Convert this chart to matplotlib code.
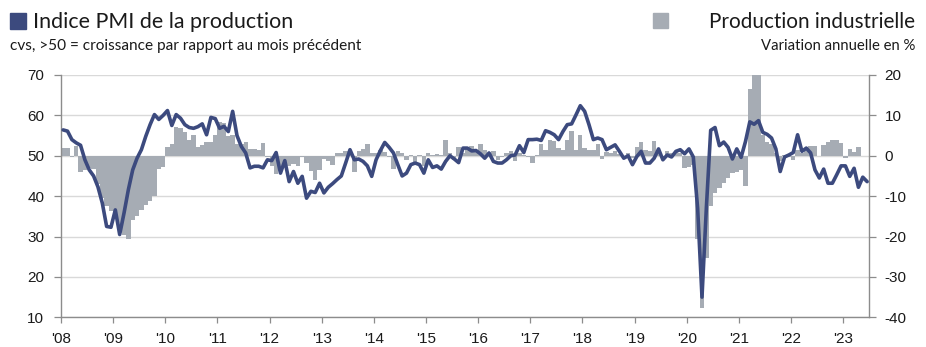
import numpy as np
import matplotlib
matplotlib.use("Agg")
import matplotlib.pyplot as plt
from matplotlib.patches import Rectangle

plt.rcParams["axes.unicode_minus"] = False

year_labels = ["'08", "'09", "'10", "'11", "'12", "'13", "'14", "'15",
               "'16", "'17", "'18", "'19", "'20", "'21", "'22", "'23"]

# PMI output index, monthly, Jan 2008 - Jun 2023 (sa, >50 = growth m/m)
pmi_output = [
    56.4, 56.1, 54.0, 53.2, 52.6, 49.0, 46.5, 45.0, 42.3, 38.3, 32.5, 32.3,
    36.6, 30.5, 35.8, 41.6, 46.5, 49.4, 51.5, 54.8, 57.7, 60.2, 59.0, 60.0,
    61.2, 57.5, 60.2, 59.3, 57.7, 57.0, 56.8, 57.2, 57.9, 55.2, 59.5, 59.2,
    56.8, 57.3, 56.0, 61.0, 55.0, 52.3, 50.7, 47.0, 47.4, 47.4, 47.0, 49.0,
    48.8, 50.8, 45.7, 48.8, 43.6, 46.1, 43.2, 44.9, 39.5, 41.2, 40.9, 43.2,
    40.8, 42.2, 43.1, 44.1, 45.0, 48.2, 51.5, 49.0, 49.2, 48.6, 47.5, 44.9,
    49.0, 51.3, 53.3, 52.1, 50.7, 47.8, 45.0, 45.7, 47.8, 48.2, 47.8, 45.7,
    49.0, 47.1, 47.5, 46.7, 48.6, 50.0, 49.2, 48.3, 51.9, 51.9, 51.2, 51.3,
    50.5, 49.4, 50.7, 48.6, 48.2, 48.2, 49.0, 50.0, 50.2, 52.5, 50.8, 54.0,
    54.0, 54.1, 53.8, 56.2, 55.8, 55.2, 54.0, 56.0, 57.7, 57.9, 60.1, 62.4,
    61.0, 57.7, 54.0, 54.4, 54.0, 51.5, 52.1, 52.7, 51.1, 49.4, 50.0, 47.8,
    49.8, 51.1, 48.2, 48.2, 49.4, 51.7, 49.0, 50.2, 49.7, 51.1, 51.5, 50.5,
    51.7, 49.7, 37.0, 15.0, 37.0, 56.3, 57.0, 52.5, 53.4, 52.1, 49.2, 51.7,
    49.6, 53.5, 58.4, 57.8, 58.7, 55.8, 55.3, 54.4, 51.7, 46.1, 49.7, 50.2,
    50.8, 55.2, 51.1, 51.9, 50.7, 46.5, 44.5, 46.7, 43.2, 43.2, 45.3, 47.5,
    47.5, 44.9, 46.9, 42.2, 44.7, 43.6,
]

# Industrial production, % change y/y, monthly, Jan 2008 - Apr 2023
ip_yoy = [
    1.9, 2.0, -0.3, 2.3, -3.9, -3.6, -3.0, -3.2, -7.0, -10.5, -12.5, -13.8,
    -15.5, -17.8, -19.5, -20.5, -16.0, -15.0, -13.5, -12.3, -11.1, -10.0, -3.2, -2.8,
    2.1, 3.0, 7.0, 6.8, 6.0, 4.0, 5.2, 2.2, 2.7, 3.3, 3.3, 5.1,
    8.4, 8.0, 4.8, 5.2, 3.0, 3.0, 3.3, 1.6, 1.7, 1.5, 3.2, -0.3,
    -2.6, -4.5, -2.6, -2.2, -2.6, -2.0, -2.6, -0.3, -1.8, -3.8, -6.0, -3.5,
    -0.8, -1.4, -2.2, 0.7, 0.8, 1.1, 0.6, -3.9, 1.3, 1.7, 3.0, 0.8,
    0.8, 1.5, 1.0, -0.3, -3.3, 1.3, 0.6, -1.0, 0.3, -1.8, 0.3, -2.6,
    0.7, 0.3, 0.5, 0.3, 4.0, 0.8, -1.0, 2.2, 0.8, 1.9, 2.5, 1.5,
    3.0, 1.5, 0.6, 1.1, -1.0, -0.4, 0.8, 1.1, -1.2, 0.6, 0.3, -0.3,
    -1.8, 0.2, 3.0, 1.5, 4.0, 3.6, 1.9, 1.5, 4.0, 6.2, 1.5, 5.1,
    1.9, 1.5, 1.4, 3.0, -0.8, 1.0, 0.8, 1.2, 0.5, -0.3, 0.6, -0.5,
    2.1, 3.3, 1.4, 1.2, 3.7, 1.0, -1.0, 1.2, 0.8, 1.0, 0.6, -3.0,
    -2.7, -2.4, -20.5, -37.8, -25.2, -12.5, -9.2, -8.0, -6.8, -5.5, -4.3, -3.9,
    -3.5, -7.6, 16.5, 44.0, 21.5, 5.2, 3.5, 3.0, 0.7, -1.2, 0.2, -0.3,
    -1.0, 1.5, 0.6, 1.7, 2.3, 2.3, 0.0, 2.7, 3.5, 3.8, 3.8, 3.1,
    -0.6, 1.7, 1.0, 2.1,
]

NAVY = "#3c4a7e"
GREY_BAR = "#a6acb4"
AXIS_GREY = "#8c8c8c"
GRID_GREY = "#d9d9d9"
TICK_FONT = "Liberation Sans"
HEAD_FONT = "Lato"

W, H = 926, 347
fig = plt.figure(figsize=(W / 100, H / 100), dpi=100)
left, right, top, bottom = 61, 869.3, 75, 317.3
ax = fig.add_axes([left / W, 1 - bottom / H, (right - left) / W, (bottom - top) / H])
ax_line = ax.twinx()

# bars on the right-hand scale
x_ip = np.arange(len(ip_yoy)) + 0.5
ax.bar(x_ip, ip_yoy, width=1.0, color=GREY_BAR, linewidth=0, zorder=2)
ax.set_ylim(-40, 20)
ax.set_yticks(range(-40, 21, 10))
ax.yaxis.tick_right()
ax.grid(axis="y", color=GRID_GREY, linewidth=1.0, zorder=0)
ax.set_axisbelow(True)

n_months = len(pmi_output)
ax.set_xlim(0, n_months)
ax.set_xticks(np.arange(0, n_months, 12))
ax.set_xticklabels(year_labels)

# PMI line on the left-hand scale
x_pmi = np.arange(n_months) + 0.5
ax_line.plot(x_pmi, pmi_output, color=NAVY, linewidth=2.6,
             solid_joinstyle="round", solid_capstyle="round", zorder=3)
ax_line.set_ylim(10, 70)
ax_line.set_yticks(range(10, 71, 10))
ax_line.yaxis.tick_left()

for a in (ax, ax_line):
    for s in a.spines.values():
        s.set_visible(False)
for side in ("left", "right", "bottom"):
    ax.spines[side].set_visible(True)
    ax.spines[side].set_color(AXIS_GREY)
    ax.spines[side].set_linewidth(1.0)

ax.tick_params(axis="x", direction="out", length=4.5, width=0.9, color=AXIS_GREY,
               pad=6, labelsize=11, labelcolor="#1a1a1a")
ax.tick_params(axis="y", direction="out", length=5, width=0.9, color=AXIS_GREY,
               pad=6, labelsize=11, labelcolor="#1a1a1a")
ax_line.tick_params(axis="y", direction="out", length=5, width=0.9, color=AXIS_GREY,
                    pad=7, labelsize=11, labelcolor="#1a1a1a")
for lab in ax.get_xticklabels() + ax.get_yticklabels() + ax_line.get_yticklabels():
    lab.set_fontfamily(TICK_FONT)

# headings and legend keys
fig.patches.append(Rectangle((10 / W, 1 - 29 / H), 16 / W, 16 / H,
                             transform=fig.transFigure, color=NAVY))
fig.text(33 / W, 1 - 22 / H, "Indice PMI de la production", fontsize=15.4,
         fontfamily=HEAD_FONT, va="center", ha="left", color="#1a1a1a")
fig.text(10 / W, 1 - 46 / H, "cvs, >50 = croissance par rapport au mois précédent",
         fontsize=11.1, fontfamily=HEAD_FONT, va="center", ha="left", color="#1a1a1a")

fig.patches.append(Rectangle((653 / W, 1 - 28 / H), 15 / W, 15 / H,
                             transform=fig.transFigure, color=GREY_BAR))
fig.text(915 / W, 1 - 22 / H, "Production industrielle", fontsize=14.9,
         fontfamily=HEAD_FONT, va="center", ha="right", color="#1a1a1a")
fig.text(915 / W, 1 - 46 / H, "Variation annuelle en %", fontsize=10.7,
         fontfamily=HEAD_FONT, va="center", ha="right", color="#1a1a1a")

fig.savefig("out.png", dpi=100, facecolor="white")
